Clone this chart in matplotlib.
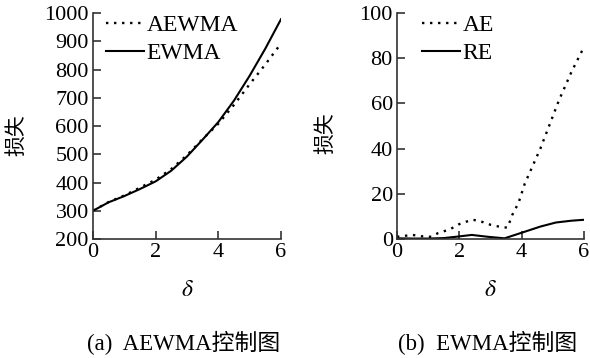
import matplotlib
matplotlib.use("Agg")
import matplotlib.pyplot as plt

plt.rcParams['font.family'] = ['Liberation Serif', 'Noto Sans CJK SC']
plt.rcParams['mathtext.fontset'] = 'stix'

# 数据
delta = [0, 0.5, 1, 1.5, 2, 2.5, 3, 3.5, 4, 4.5, 5, 5.5, 6]
aewma = [300, 331, 354, 382, 410, 448, 497, 554, 608, 675, 748, 818, 892]
ewma = [300, 330, 352, 377, 404, 442, 492, 552, 614, 690, 778, 874, 978]

delta_b = [0, 0.5, 0.9, 1.1, 1.3, 1.7, 2.0, 2.4, 2.6, 3.0, 3.4, 3.55, 3.7, 3.9, 4.1, 4.6, 5.2, 5.6, 6.0]
ae = [1.0, 1.8, 1.0, 1.0, 2.5, 4.3, 6.6, 8.5, 8.2, 6.3, 5.1, 5.1, 10.7, 16, 24.5, 40, 61.5, 74, 85]
delta_re = [0, 0.5, 1.0, 1.5, 1.9, 2.4, 2.9, 3.45, 4.05, 4.6, 5.1, 5.6, 6.0]
re = [0.3, 0.2, 0.2, 0.4, 1.0, 1.8, 1.0, 0.3, 3.0, 5.5, 7.3, 8.1, 8.5]

fs = 16
dots = (0, (1, 2.4))
fig = plt.figure(figsize=(5.9, 3.58), dpi=100)
ax1 = fig.add_axes([93/590, 1-239/358, 188/590, 226/358])
ax2 = fig.add_axes([397/590, 1-239/358, 187/590, 226/358])

ax1.plot(delta, aewma, color="black", linestyle=dots, lw=1.7, label="AEWMA")
ax1.plot(delta, ewma, color="black", linestyle="-", lw=1.5, label="EWMA")
ax1.set_xlim(0, 6)
ax1.set_ylim(200, 1000)
ax1.set_yticks(range(200, 1001, 100))
ax1.set_xticks([0, 2, 4, 6])

ax2.plot(delta_b, ae, color="black", linestyle=dots, lw=1.7, label="AE")
ax2.plot(delta_re, re, color="black", linestyle="-", lw=1.5, label="RE")
ax2.set_xlim(0, 6)
ax2.set_ylim(0, 100)
ax2.set_yticks(range(0, 101, 20))
ax2.set_xticks([0, 2, 4, 6])

for ax, lx in ((ax1, 0.02), (ax2, 0.085)):
    ax.spines['top'].set_visible(False)
    ax.spines['right'].set_visible(False)
    for s in ('left', 'bottom'):
        ax.spines[s].set_color('#333333')
        ax.spines[s].set_linewidth(1.2)
    ax.tick_params(direction='in', length=6, width=1.2, color='#333333',
                   labelsize=fs, pad=3)
    ax.set_xlabel(r"$\delta$", fontsize=17, labelpad=13)
    ax.legend(loc="upper left", bbox_to_anchor=(lx, 1.035), frameon=False,
              fontsize=17, handlelength=1.6, handletextpad=0.1,
              labelspacing=0.28, borderaxespad=0)

fig.text(17/590, 1-135/358, "损失", rotation=90, fontsize=15, ha='center', va='center')
fig.text(326/590, 1-133/358, "损失", rotation=90, fontsize=15, ha='center', va='center')

fig.text(184/590, 1-343/358, "(a)  AEWMA控制图", fontsize=16.5, ha='center', va='center')
fig.text(488/590, 1-343/358, "(b)  EWMA控制图", fontsize=16.5, ha='center', va='center')

fig.savefig("out.png", dpi=100)
